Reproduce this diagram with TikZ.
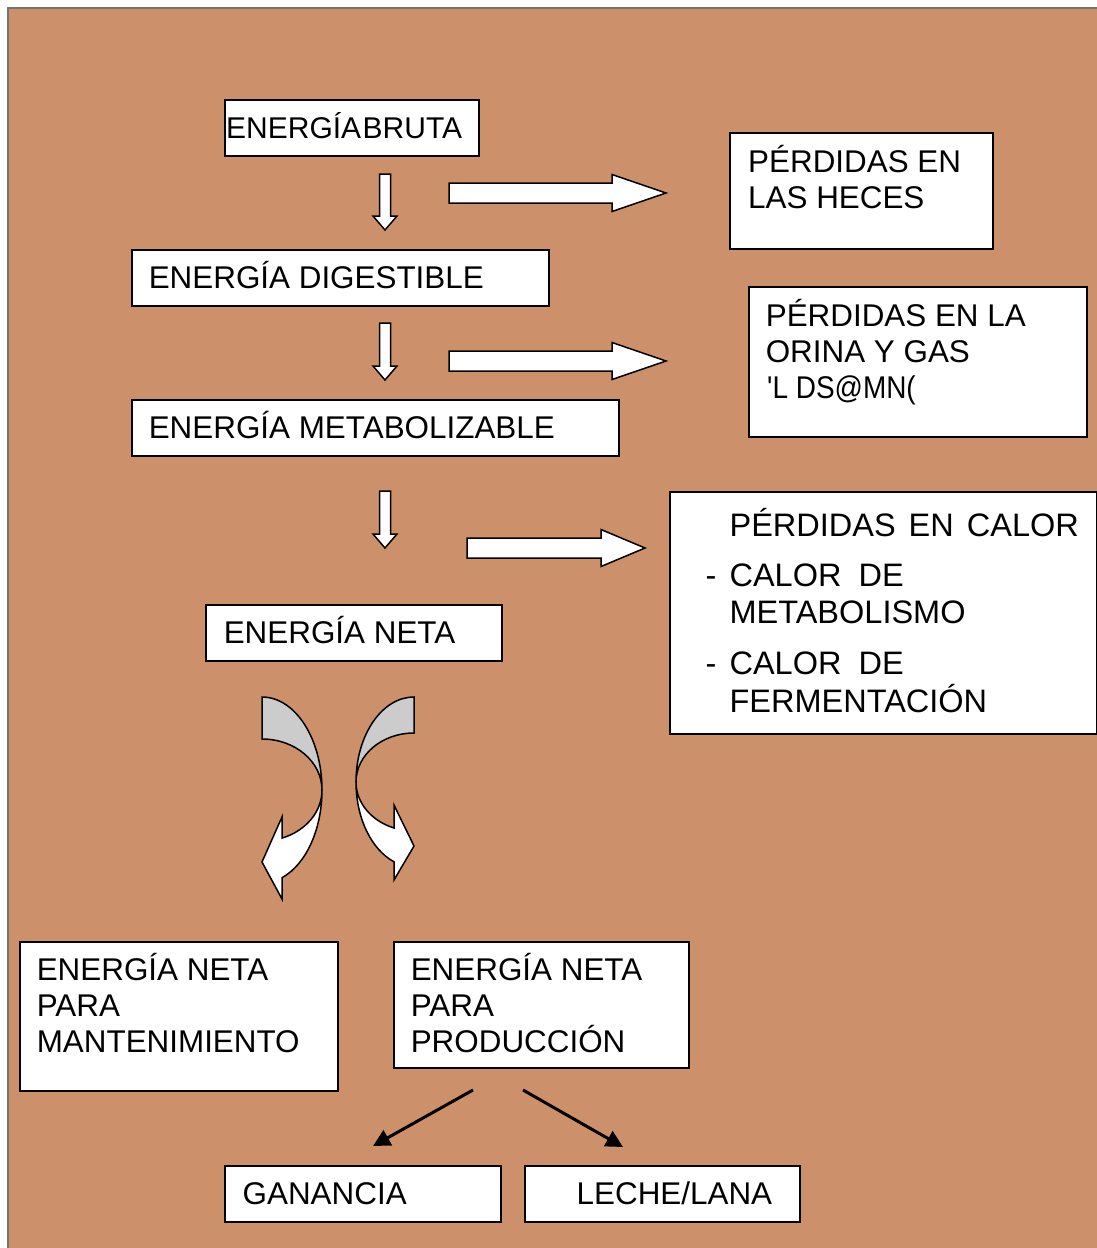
\documentclass[tikz,border=0pt]{standalone}
\usepackage{fontspec}
\setmainfont{Liberation Sans}
\newfontfamily\rawfont{Liberation Sans}[Ligatures=ResetAll]
\usepackage{graphicx}
\usetikzlibrary{arrows.meta}
\definecolor{bgor}{RGB}{204,145,106}
\definecolor{bordgray}{RGB}{115,115,115}
\definecolor{arrgray}{RGB}{204,204,204}
\newcommand\boxat[5]{\node[box, minimum width={#4-#2}, minimum height={#5-#3}] (#1) at (#2,#3) {};}
\newcommand\tline[4]{\node[tl] (#1) at (#2,#3) {#4};}
\newcommand\dnblk[3]{\draw[blk] (#1-5.5,#2) -- (#1+5.5,#2) -- (#1+5.5,#3-14) -- (#1+12,#3-14) -- (#1,#3) -- (#1-12,#3-14) -- (#1-5.5,#3-14) -- cycle;}
\newcommand\rtblk[4]{\draw[blk] (#1,#2-10) -- (#3,#2-10) -- (#3,#2-18.5) -- (#4,#2) -- (#3,#2+18.5) -- (#3,#2+10) -- (#1,#2+10) -- cycle;}
\tikzset{
  box/.style={draw=black, fill=white, line width=1.6pt, inner sep=0pt, anchor=north west},
  tl/.style={anchor=base west, inner sep=0pt, font=\fontsize{31.4}{36}\selectfont},
  tlc/.style={anchor=base west, inner sep=0pt, font=\fontsize{32.5}{36}\selectfont},
  blk/.style={draw=black, fill=white, line width=1.5pt, line join=miter},
  cgray/.style={draw=black, fill=arrgray, line width=1.5pt},
  cwhite/.style={draw=black, fill=white, line width=1.5pt, line join=miter},
  blkarrow/.style={draw=black, line width=3pt, -{Triangle[length=17pt,width=17pt]}}
}
\begin{document}
\begin{tikzpicture}[x=1pt,y=-1pt]
\useasboundingbox (0,0) rectangle (1097,1248);
\fill[white] (0,0) rectangle (1097,1248);
\fill[bgor] (8,8) rectangle (1097,1248);
\draw[bordgray, line width=2pt] (8,1248) -- (8,8) -- (1097,8);

% boxes
\boxat{bruta}{224}{99}{478}{155}
\boxat{heces}{729}{132}{992}{248}
\boxat{digest}{131}{249}{548}{305}
\boxat{orina}{748}{286}{1086}{436}
\boxat{metab}{131}{399}{618}{455}
\boxat{calor}{669}{491}{1096}{733}
\boxat{neta}{205}{604}{501}{660}
\boxat{mant}{19}{941}{337}{1090}
\boxat{prod}{393}{941}{688}{1067}
\boxat{gan}{224}{1165}{500}{1221}
\boxat{leche}{524}{1165}{799}{1221}

% texts
\node[tl, font=\fontsize{30}{36}\selectfont] (tbruta) at (226,138) {\spaceskip=1.5pt\relax ENERGÍA BRUTA};
\tline{theces1}{748}{172}{PÉRDIDAS EN}
\tline{theces2}{748}{208}{LAS HECES}
\tline{tdigest}{148.6}{288}{ENERGÍA DIGESTIBLE}
\tline{torina1}{765.6}{326}{PÉRDIDAS EN LA}
\tline{torina2}{765.6}{362}{ORINA Y GAS}
\tline{torina3}{767}{398}{\rawfont\scalebox{0.89}[1]{'L DS@MN(}}
\tline{tmetab}{148.6}{438}{ENERGÍA METABOLIZABLE}
\node[tlc] (tcalor1) at (729.4,536.5) {\spaceskip=13pt\relax PÉRDIDAS EN CALOR};
\node[tlc] (tcalor2) at (705.3,586.5) {\makebox[24.1pt][l]{-}\spaceskip=17pt\relax CALOR DE};
\node[tlc] (tcalor3) at (729.4,623.5) {METABOLISMO};
\node[tlc] (tcalor4) at (705.3,674.5) {\makebox[24.1pt][l]{-}\spaceskip=17pt\relax CALOR DE};
\node[tlc] (tcalor5) at (729.4,712.5) {FERMENTACIÓN};
\tline{tneta}{223.6}{643}{ENERGÍA NETA}
\tline{tmant1}{36.6}{980}{ENERGÍA NETA}
\tline{tmant2}{36.6}{1016}{PARA}
\tline{tmant3}{36.6}{1052}{MANTENIMIENTO}
\tline{tprod1}{410.6}{980}{ENERGÍA NETA}
\tline{tprod2}{410.6}{1016}{PARA}
\tline{tprod3}{410.6}{1052}{PRODUCCIÓN}
\tline{tgan}{242.5}{1204}{GANANCIA}
\tline{tleche}{576.5}{1204}{LECHE/LANA}

% block arrows
\dnblk{385}{174}{230}
\dnblk{385}{323}{380}
\dnblk{385}{491}{548}
\rtblk{449}{193}{612}{666}
\rtblk{449}{361}{612}{666}
\rtblk{467}{548}{601}{645}

% curved arrows (left)
\draw[cgray] (262,697) arc[start angle=-90, end angle=0, x radius=60, y radius=93]
  arc[start angle=0, end angle=-90, x radius=60, y radius=51] -- cycle;
\draw[cwhite] (322,790) arc[start angle=0, end angle=70.53, x radius=60, y radius=93]
  -- (282,899) -- (262,862) -- (282,817) -- (282,838.1)
  arc[start angle=70.53, end angle=0, x radius=60, y radius=51] -- cycle;
% curved arrows (right)
\draw[cgray] (414,697) arc[start angle=-90, end angle=-180, x radius=58, y radius=85]
  arc[start angle=180, end angle=270, x radius=58, y radius=49] -- cycle;
\draw[cwhite] (356,782) arc[start angle=180, end angle=110.17, x radius=58, y radius=85]
  -- (394,880) -- (414,846) -- (394,805) -- (394,828)
  arc[start angle=110.17, end angle=180, x radius=58, y radius=49] -- cycle;

% bottom arrows
\coordinate (a1s) at (473,1090);
\coordinate (a1e) at (373,1146);
\coordinate (a2s) at (523,1090);
\coordinate (a2e) at (623,1147);
\draw[blkarrow] (a1s) -- (a1e);
\draw[blkarrow] (a2s) -- (a2e);
\end{tikzpicture}
\end{document}
